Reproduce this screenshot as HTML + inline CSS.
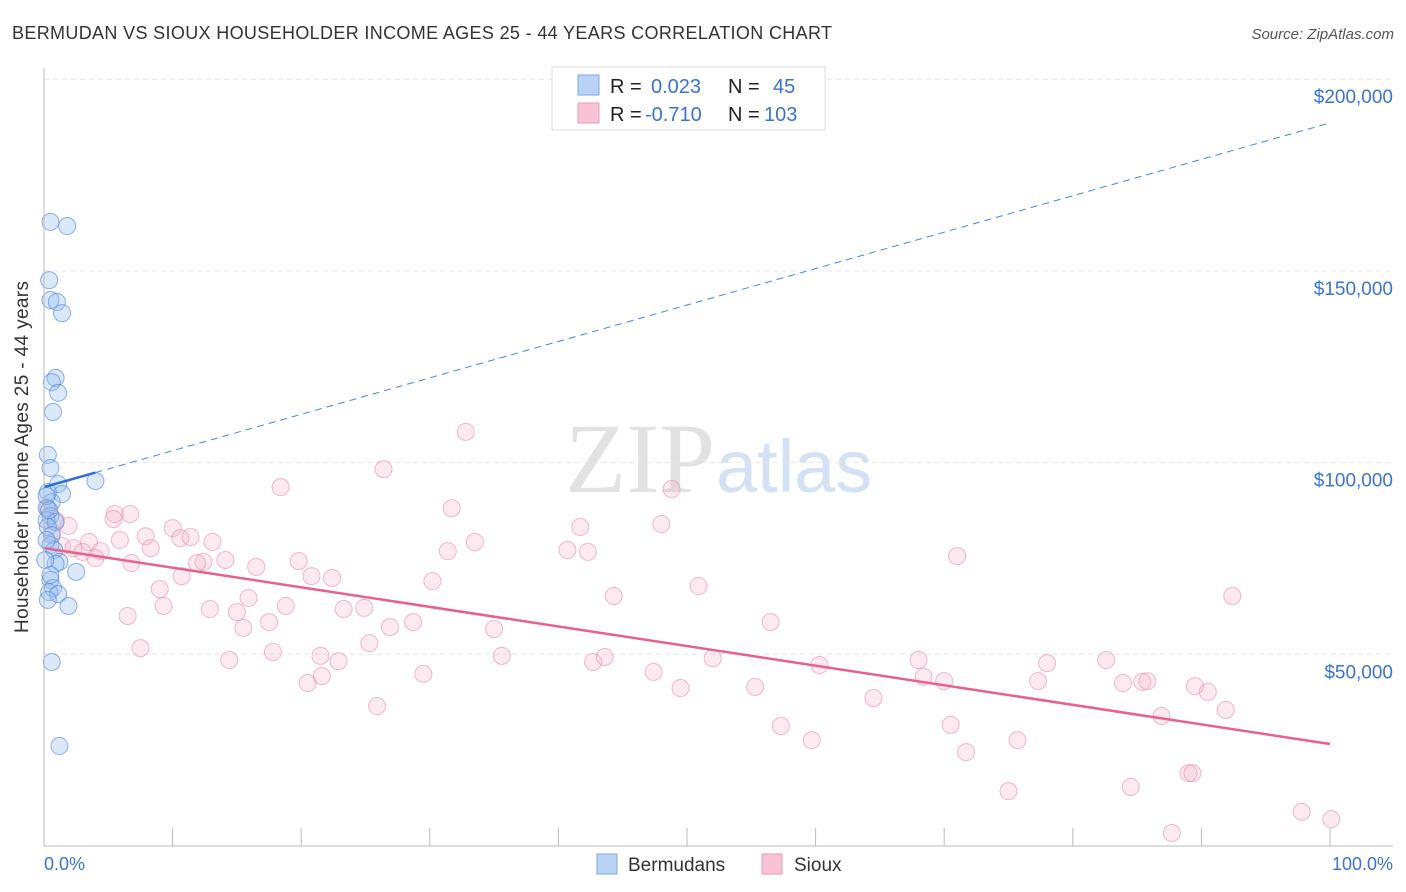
<!DOCTYPE html>
<html><head><meta charset="utf-8"><style>
body{margin:0;background:#fff;font-family:"Liberation Sans",sans-serif;}
svg{display:block}
</style></head><body>
<svg id="c" width="1406" height="892">
<text x="12" y="39" font-size="18" fill="#333" textLength="820">BERMUDAN VS SIOUX HOUSEHOLDER INCOME AGES 25 - 44 YEARS CORRELATION CHART</text>
<text x="1394" y="39" font-size="15" fill="#555" font-style="italic" text-anchor="end">Source: ZipAtlas.com</text>
<text x="715" y="492" font-size="100" fill="#e2e2e2" text-anchor="end" font-family="Liberation Serif">ZIP</text>
<text x="716" y="492" font-size="74" fill="#d3e1f4">atlas</text>
<g id="grid"></g><g id="pts"></g><g id="lines"></g>
<line x1="44" y1="68" x2="44" y2="846" stroke="#bbb"/>
<line x1="44" y1="846" x2="1393" y2="846" stroke="#bbb"/>
<text x="28" y="457" font-size="19" fill="#333" text-anchor="middle" textLength="352" transform="rotate(-90 28 457)">Householder Income Ages 25 - 44 years</text>
<text x="44" y="870" font-size="18" fill="#3b73d4">0.0%</text>
<text x="1393" y="870" font-size="18" fill="#3b73d4" text-anchor="end">100.0%</text>
<g>
<rect x="552" y="67" width="273" height="63" fill="#fff" stroke="#ddd"/>
<rect x="578" y="75" width="21" height="20" fill="#b9d3f5" stroke="#7aa7e6"/>
<rect x="578" y="103" width="21" height="20" fill="#f8c3d3" stroke="#eb9ab3"/>
<text x="610" y="93" font-size="20" fill="#222">R = <tspan fill="#3b73d4" x="651">0.023</tspan><tspan x="728">N =</tspan><tspan fill="#3b73d4" x="773">45</tspan></text>
<text x="610" y="121" font-size="20" fill="#222">R = <tspan fill="#3b73d4" x="645">-0.710</tspan><tspan x="728">N =</tspan><tspan fill="#3b73d4" x="764">103</tspan></text>
</g>
<g>
<rect x="597" y="854" width="20" height="20" fill="#b9d3f5" stroke="#7aa7e6"/>
<text x="628" y="871" font-size="19" fill="#333">Bermudans</text>
<rect x="762" y="854" width="20" height="20" fill="#f8c3d3" stroke="#eb9ab3"/>
<text x="794" y="871" font-size="19" fill="#333">Sioux</text>
</g>
</svg>
<script>
const yTicks=[50000,100000,150000,200000];
const yTickLabels=["$50,000","$100,000","$150,000","$200,000"];
const xTicks=[10,20,30,40,50,60,70,80,90,100];
const blueX=[0.5,1.8,0.4,0.5,1.0,1.4,0.9,0.6,1.1,0.7,0.3,0.5,1.1,4.0,1.4,0.3,0.6,0.2,0.5,0.2,0.9,0.3,0.6,0.5,0.8,1.2,0.9,2.5,0.5,0.7,0.4,1.1,0.3,1.9,0.6,1.2,0.2,0.4,0.2,0.1,0.5];
const blueY=[162.8,161.7,147.6,142.4,141.9,139.0,122.1,121.0,118.2,113.2,102.0,98.6,94.4,95.2,91.8,92.3,89.7,88.2,86.1,85.0,84.5,83.2,81.1,78.5,77.2,74.1,73.6,71.5,69.4,67.3,66.2,65.7,64.2,62.6,48.0,26.1,91.3,87.6,79.8,74.6,70.7];
const pinkX=[32.8,26.4,18.4,31.7,48.8,41.7,48.0,42.3,31.4,33.5,71.0,92.4,44.3,50.9,6.7,5.5,1.9,0.9,1.4,3.5,2.3,4.4,4.0,5.4,5.9,6.8,7.9,8.3,10.0,10.6,11.4,13.1,14.1,12.4,11.9,10.7,9.0,9.3,6.5,7.5,12.9,15.0,15.5,15.9,16.5,17.5,18.8,19.8,20.8,22.4,17.8,14.4,20.5,21.6,21.5,22.9,23.3,24.9,25.3,25.9,26.9,28.7,30.2,29.5,35.0,35.6,40.7,42.7,43.6,47.4,49.5,52.0,55.3,56.5,57.3,59.7,60.3,64.5,68.0,68.4,70.0,70.5,71.7,75.0,75.7,78.0,77.3,82.6,83.9,85.4,85.8,84.5,86.9,87.7,89.0,89.3,89.5,90.5,91.9,97.8,100.1,0.3,0.6,3.0];
const pinkY=[108.0,98.3,93.6,88.1,93.1,83.2,84.0,76.7,76.9,79.3,75.6,65.2,65.2,67.8,86.6,86.6,83.5,85.0,78.2,79.3,77.7,76.9,75.1,85.3,79.8,73.8,80.8,77.7,82.9,80.3,80.6,79.3,74.6,74.1,73.8,70.4,67.0,62.6,60.0,51.6,61.8,61.0,56.9,64.7,72.8,58.4,62.6,74.3,70.4,69.9,50.6,48.5,42.5,44.3,49.6,48.2,61.8,62.1,52.9,36.5,57.1,58.4,69.1,44.9,56.6,49.6,77.2,48.0,49.3,45.4,41.2,49.0,41.5,58.4,31.3,27.6,47.2,38.6,48.5,44.1,43.0,31.6,24.5,14.3,27.6,47.7,43.0,48.5,42.5,42.8,43.0,15.4,33.9,3.4,19.0,19.0,41.7,40.2,35.5,8.9,7.0,88.1,81.9,76.7];
const blueLine=[93.6,188.6];
const pinkLine=[77.7,26.6];
const NS="http://www.w3.org/2000/svg";
const X=v=>44+v*12.86, Y=k=>846-k/50*191.7;
function mk(t,a,p){const e=document.createElementNS(NS,t);for(const k in a)e.setAttribute(k,a[k]);p.appendChild(e);return e;}
const grid=document.getElementById('grid'),pts=document.getElementById('pts'),lines=document.getElementById('lines');
yTicks.forEach((t,i)=>{const y=Y(t/1000);
const g=mk('line',{x1:44,x2:1393,y1:y,y2:y,stroke:'#e6e6e6','stroke-dasharray':'5,4'},grid);


const tx=mk('text',{x:1393,y:y+24,'font-size':19,fill:'#3b73d4','text-anchor':'end'},grid);tx.textContent=yTickLabels[i];

});
xTicks.forEach(t=>{const l=mk('line',{x1:X(t),x2:X(t),y1:828,y2:846,stroke:'#bbb'},grid);

});
pinkX.forEach((x,i)=>{const c=mk('circle',{cx:X(x),cy:Y(pinkY[i]),r:8.5,fill:'rgba(244,170,194,0.25)',stroke:'rgba(232,140,170,0.6)','stroke-width':1},pts);

});
blueX.forEach((x,i)=>{const c=mk('circle',{cx:X(x),cy:Y(blueY[i]),r:8.5,fill:'rgba(150,190,240,0.35)',stroke:'rgba(80,138,218,0.65)','stroke-width':1},pts);

});
const bl=(v)=>blueLine[0]+(blueLine[1]-blueLine[0])*v/100;
let e=mk('line',{x1:X(4),y1:Y(bl(4)),x2:X(100),y2:Y(bl(100)),stroke:'#4a86dc','stroke-width':1,'stroke-dasharray':'7,5'},lines);


e=mk('line',{x1:X(0),y1:Y(bl(0)),x2:X(4),y2:Y(bl(4)),stroke:'#2f6fd6','stroke-width':2.5},lines);


e=mk('line',{x1:X(0),y1:Y(pinkLine[0]),x2:X(100),y2:Y(pinkLine[1]),stroke:'#e8608e','stroke-width':2.5},lines);


</script>
</body></html>
